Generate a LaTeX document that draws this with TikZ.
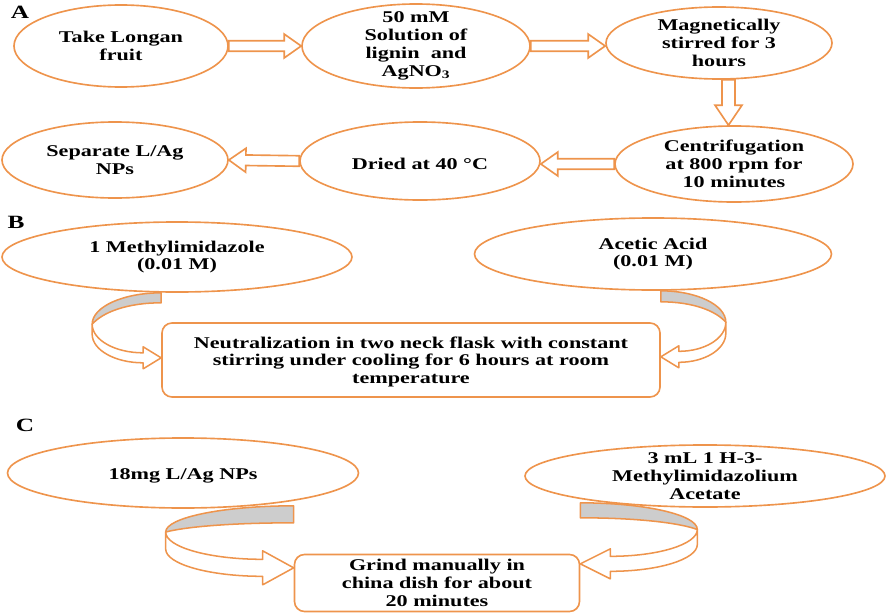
\documentclass[tikz,border=0pt]{standalone}
\usepackage{fontspec}
\setmainfont{Liberation Serif}[FakeStretch=1.35]
\usetikzlibrary{shapes.geometric,calc}
\definecolor{flowOrange}{RGB}{238,148,76}
\definecolor{ribbonGray}{RGB}{205,205,205}

% block arrow between two points: from, to, shaft half width, head half width, head length
\newcommand\hollowarrow[5]{%
  \coordinate (hb) at ($(#2)!#5!(#1)$);
  \draw[draw=flowOrange, line width=1.4pt, fill=white]
    ($(#1)!#3!90:(#2)$) -- ($(hb)!#3!-90:(#1)$) -- ($(hb)!#4!-90:(#1)$) -- (#2)
    -- ($(hb)!#4!90:(#1)$) -- ($(hb)!#3!90:(#1)$) -- ($(#1)!#3!-90:(#2)$) -- cycle;}

% curved ribbon arrow: start, mirror, width, thickness, drop, head length, head half width
\newcommand\ribbonarrow[7]{%
  \begin{scope}[shift={(#1)}, xscale=#2, draw=flowOrange, line width=1.3pt, line join=round]
    \pgfmathsetmacro\yL{0.56*#5-#4/2}
    \filldraw[fill=ribbonGray] (0,0) .. controls ({-0.552*#3},0) and ({-#3},{0.448*\yL}) .. ({-#3},\yL)
      .. controls ({-0.85*#3},{#4+0.45*(\yL-#4)}) and ({-0.5*#3},#4) .. (0,#4) -- cycle;
    \filldraw[fill=white] ({-#3},\yL) -- ({-#3},{\yL+#4})
      .. controls ({-#3},{\yL+#4+0.552*(#5+0.5*#4-\yL-#4)}) and ({-#6-0.552*(#3-#6)},{#5+0.5*#4}) .. ({-#6},{#5+0.5*#4})
      -- ({-#6},{#5+#7}) -- (0,#5) -- ({-#6},{#5-#7}) -- ({-#6},{#5-0.5*#4})
      .. controls ({-#6-0.552*(#3-#6)},{#5-0.5*#4}) and ({-#3},{\yL+0.552*(#5-0.5*#4-\yL)}) .. ({-#3},\yL) -- cycle;
  \end{scope}}

\begin{document}
\begin{tikzpicture}[x=0.03cm, y=-0.03cm, font=\bfseries\fontsize{14}{15.2}\selectfont]
\useasboundingbox (0,0) rectangle (886,615);

% panel letters
\begin{scope}[every node/.style={font=\bfseries\fontsize{16}{16}\selectfont, inner sep=0pt}]
    \node (labA) at (20,12) {A};
    \node (labB) at (16,222) {B};
    \node (labC) at (25,425) {C};
\end{scope}

% ellipses
\begin{scope}[every node/.style={ellipse, draw=flowOrange, line width=1.4pt, align=center, inner sep=-15pt,
    execute at begin node={\rule{0pt}{15pt}}}]
    \node[minimum width=6.42cm, minimum height=2.46cm] (e1) at (121,46) {Take Longan\\fruit};
    \node[minimum width=6.84cm, minimum height=2.52cm] (e2) at (416,46) {50 mM\\Solution of\\lignin\ \ and\\AgNO\textsubscript{3}};
    \node[minimum width=6.78cm, minimum height=2.16cm] (e3) at (719,43) {Magnetically\\stirred for 3\\hours};
    \node[minimum width=7.14cm, minimum height=2.28cm] (e4) at (734,164) {Centrifugation\\at 800 rpm for\\10 minutes};
    \node[minimum width=7.2cm, minimum height=2.34cm] (e5) at (420,161) {Dried at 40 °C};
    \node[minimum width=6.78cm, minimum height=2.28cm] (e6) at (115,160) {Separate L/Ag\\NPs};
    \node[minimum width=10.5cm, minimum height=2.1cm] (b1) at (177,257) {1 Methylimidazole\\(0.01 M)};
    \node[minimum width=10.71cm, minimum height=2.16cm] (b2) at (653,254) {Acetic Acid\\(0.01 M)};
    \node[minimum width=10.53cm, minimum height=2.1cm] (c1) at (183,473) {18mg L/Ag NPs};
    \node[minimum width=10.8cm, minimum height=1.86cm] (c2) at (705,476) {3 mL 1 H-3-\\Methylimidazolium\\Acetate};
\end{scope}

% boxes
\begin{scope}[every node/.style={rectangle, rounded corners=0.3cm, draw=flowOrange, line width=1.4pt, align=center, inner sep=0pt}]
    \node[minimum width=14.94cm, minimum height=2.22cm] (rb) at (411,360) {\rule{0pt}{13pt}Neutralization in two neck flask with constant\\stirring under cooling for 6 hours at room\\temperature};
    \node[minimum width=8.55cm, minimum height=1.71cm] (rc) at (437,583) {Grind manually in\\china dish for about\\20 minutes};
\end{scope}

% block arrows of part A
\coordinate (a2) at (e3.west |- e2.east);
\coordinate (d1) at ($(e3.south)+(9.5,0)$);
\coordinate (d2) at (d1 |- e4.north);
\coordinate (a4) at (e5.east |- e4.west);
\hollowarrow{e1.east}{e2.west}{4.5pt}{10.2pt}{14.5pt}
\hollowarrow{e2.east}{a2}{4.5pt}{10.2pt}{14.5pt}
\hollowarrow{d1}{d2}{5.6pt}{11.5pt}{17pt}
\hollowarrow{e4.west}{a4}{4.5pt}{10.2pt}{14.5pt}
\hollowarrow{e5.west}{e6.east}{4.5pt}{10.2pt}{14.5pt}

% curved arrows of parts B and C
\coordinate (bl) at (rb.west |- b1.south);
\coordinate (br) at (rb.east |- b2.south);
\coordinate (cl) at ($(rc.west |- c1.south)+(0,-3)$);
\coordinate (cr) at ($(rc.east |- c2.south)+(0,-5)$);
\ribbonarrow{bl}{1}{69}{10}{65}{18}{11}
\ribbonarrow{br}{-1}{65}{11}{66}{18}{11}
\ribbonarrow{cl}{1}{128}{17}{62}{31}{17}
\ribbonarrow{cr}{-1}{117}{15}{61}{30}{15}
\end{tikzpicture}
\end{document}
